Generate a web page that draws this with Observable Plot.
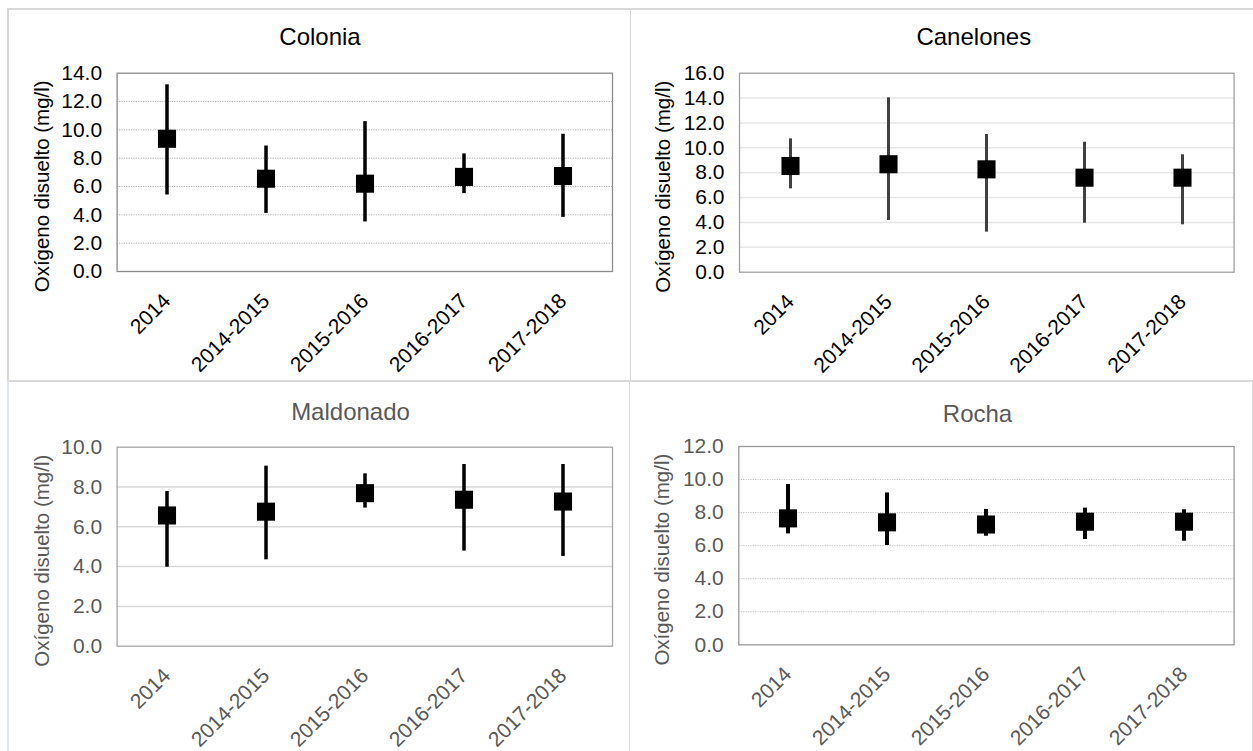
<!DOCTYPE html>
<html>
<head>
<meta charset="utf-8">
<script src="https://cdn.jsdelivr.net/npm/d3@7"></script>
<script src="https://cdn.jsdelivr.net/npm/@observablehq/plot@0.6"></script>
<style>
  html, body { margin: 0; padding: 0; background: #fff; width: 1253px; height: 751px; overflow: hidden; }
  .line { position: absolute; background: #d9d9d9; }
  .chart { position: absolute; }
  .chart svg { display: block; overflow: visible; }
</style>
</head>
<body>
<script>
// Sampling periods shared by every department
const periods = ["2014", "2014-2015", "2015-2016", "2016-2017", "2017-2018"];

// Dissolved oxygen (mg/l): mean with minimum–maximum range per period
const coloniaMean = [9.37, 6.55, 6.2, 6.68, 6.74];
const coloniaMin  = [5.4, 4.1, 3.5, 5.5, 3.82];
const coloniaMax  = [13.18, 8.86, 10.58, 8.3, 9.69];

const canelonesMean = [8.54, 8.68, 8.27, 7.6, 7.6];
const canelonesMin  = [6.7, 4.16, 3.22, 3.94, 3.81];
const canelonesMax  = [10.72, 14.02, 11.07, 10.45, 9.44];

const maldonadoMean = [6.57, 6.76, 7.69, 7.36, 7.27];
const maldonadoMin  = [3.97, 4.34, 6.94, 4.78, 4.51];
const maldonadoMax  = [7.77, 9.05, 8.66, 9.13, 9.13];

const rochaMean = [7.65, 7.41, 7.28, 7.45, 7.45];
const rochaMin  = [6.71, 6.01, 6.57, 6.37, 6.27];
const rochaMax  = [9.7, 9.19, 8.19, 8.27, 8.17];

// y tick labels per department
const coloniaTicks   = [0, 2, 4, 6, 8, 10, 12, 14];
const canelonesTicks = [0, 2, 4, 6, 8, 10, 12, 14, 16];
const maldonadoTicks = [0, 2, 4, 6, 8, 10];
const rochaTicks     = [0, 2, 4, 6, 8, 10, 12];

const yLabel = "Oxígeno disuelto (mg/l)";
const FONT = "'Liberation Sans', Arial, Helvetica, sans-serif";

function rows(mean, min, max) {
  return periods.map((p, i) => ({period: p, mean: mean[i], min: min[i], max: max[i]}));
}

function drawPanel(cfg) {
  const data = rows(cfg.mean, cfg.min, cfg.max);
  const ticks = cfg.ticks;
  const yMax = ticks[ticks.length - 1];
  const m = cfg.margin;
  const chart = Plot.plot({
    width: cfg.width,
    height: cfg.height,
    marginLeft: m.left,
    marginRight: m.right,
    marginTop: m.top,
    marginBottom: m.bottom,
    style: {fontFamily: FONT, fontSize: "21px", background: "transparent", overflow: "visible"},
    x: {type: "band", domain: periods, padding: 0, axis: null},
    y: {domain: [0, yMax], axis: null},
    marks: [
      // horizontal gridlines between the frame edges
      Plot.ruleY(ticks.filter(t => t > 0 && t < yMax), {
        stroke: cfg.grid.color,
        strokeWidth: cfg.grid.width,
        strokeDasharray: cfg.grid.dash
      }),
      Plot.frame({stroke: cfg.frame, strokeWidth: 1.3}),
      Plot.axisY({
        ticks,
        tickSize: 0,
        tickPadding: 15,
        tickFormat: d => d.toFixed(1),
        fontSize: 21,
        fill: cfg.ink,
        label: null
      }),
      // rotated category labels
      Plot.text(periods, {
        x: d => d,
        text: d => d,
        frameAnchor: "bottom",
        rotate: -45,
        textAnchor: "end",
        lineAnchor: "middle",
        dy: 26,
        fontSize: 21,
        fill: cfg.ink
      }),
      // y axis title
      Plot.text([yLabel], {
        text: d => d,
        frameAnchor: "left",
        rotate: -90,
        textAnchor: "middle",
        lineAnchor: "middle",
        dx: cfg.yTitle.dx,
        dy: cfg.yTitle.dy,
        fontSize: 20.5,
        fill: cfg.ink
      }),
      // chart title
      Plot.text([cfg.title], {
        text: d => d,
        frameAnchor: "top-left",
        textAnchor: "middle",
        lineAnchor: "middle",
        dx: cfg.titlePos[0] - m.left,
        dy: cfg.titlePos[1] - m.top,
        fontSize: 24,
        fill: cfg.ink
      }),
      // min–max range
      Plot.ruleX(data, {x: "period", y1: "min", y2: "max", stroke: cfg.whisker.color, strokeWidth: cfg.whisker.width}),
      // mean marker
      Plot.dot(data, {x: "period", y: "mean", symbol: "square", r: 10.2, fill: "#000", stroke: "none"})
    ]
  });
  const holder = document.createElement("div");
  holder.className = "chart";
  holder.style.left = cfg.left + "px";
  holder.style.top = cfg.top + "px";
  holder.appendChild(chart);
  document.body.appendChild(holder);
}

function line(left, top, width, height, color) {
  const d = document.createElement("div");
  d.className = "line";
  Object.assign(d.style, {left: left + "px", top: top + "px", width: width + "px", height: height + "px"});
  if (color) d.style.background = color;
  document.body.appendChild(d);
}

// panel borders
line(7, 8, 1246, 1.5);
line(7, 380, 1246, 1.5);
line(7, 8, 1.5, 373);
line(7, 381, 1.5, 370, "#dce6f2");
line(629.5, 8, 1.5, 373);
line(628.5, 381, 1.5, 370);
line(1251.5, 381, 1.5, 370);

drawPanel({
  title: "Colonia", mean: coloniaMean, min: coloniaMin, max: coloniaMax, ticks: coloniaTicks,
  left: 7, top: 8, width: 623, height: 373,
  margin: {left: 109.6, right: 18, top: 64.7, bottom: 110},
  titlePos: [312.5, 29], yTitle: {dx: -75, dy: 14},
  ink: "#000", frame: "#8c8c8c",
  grid: {color: "#b0b0b0", width: 1, dash: "1.2,1.2"},
  whisker: {color: "#000", width: 3.5}
});

drawPanel({
  title: "Canelones", mean: canelonesMean, min: canelonesMin, max: canelonesMax, ticks: canelonesTicks,
  left: 630, top: 8, width: 623, height: 373,
  margin: {left: 109, right: 19.4, top: 64.7, bottom: 109.3},
  titlePos: [343.3, 29], yTitle: {dx: -76, dy: 14},
  ink: "#000", frame: "#a0a0a0",
  grid: {color: "#e6e6e6", width: 1.5, dash: null},
  whisker: {color: "#404040", width: 3}
});

drawPanel({
  title: "Maldonado", mean: maldonadoMean, min: maldonadoMin, max: maldonadoMax, ticks: maldonadoTicks,
  left: 7, top: 381, width: 622, height: 370,
  margin: {left: 109.6, right: 17, top: 65.7, bottom: 105.3},
  titlePos: [343, 30.7], yTitle: {dx: -75, dy: 14},
  ink: "#595959", frame: "#a6a6a6",
  grid: {color: "#d9d9d9", width: 1.5, dash: null},
  whisker: {color: "#000", width: 3.5}
});

drawPanel({
  title: "Rocha", mean: rochaMean, min: rochaMin, max: rochaMax, ticks: rochaTicks,
  left: 629, top: 381, width: 623, height: 370,
  margin: {left: 109.3, right: 18.4, top: 65, bottom: 106.7},
  titlePos: [348, 33], yTitle: {dx: -76, dy: 14},
  ink: "#595959", frame: "#999999",
  grid: {color: "#c0c0c0", width: 1, dash: "1.2,1.2"},
  whisker: {color: "#000", width: 4}
});
</script>
</body>
</html>
